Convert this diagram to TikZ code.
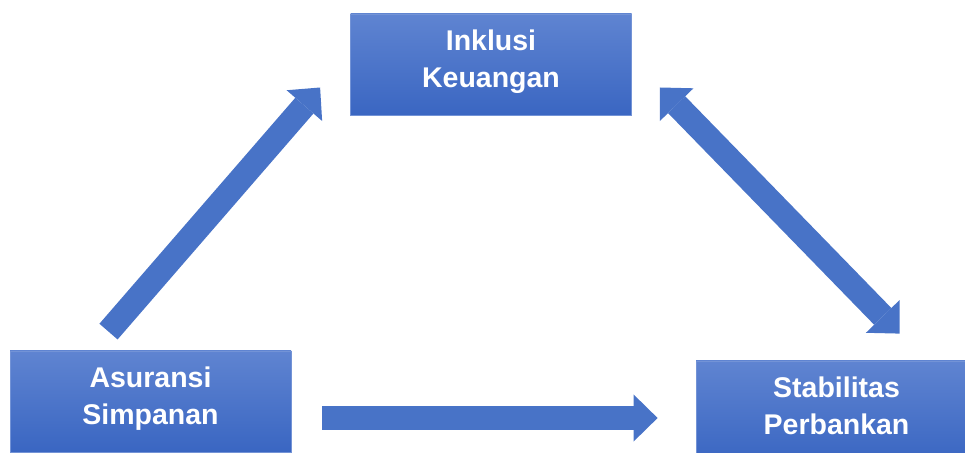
\documentclass[tikz,border=0pt]{standalone}
\usepackage{fontspec}
\setmainfont{Liberation Sans}
\usetikzlibrary{positioning,calc,arrows.meta}
\definecolor{boxtop}{HTML}{5F84D1}
\definecolor{boxbottom}{HTML}{3A66C2}
\definecolor{boxline}{HTML}{7393D6}
\definecolor{arrowblue}{HTML}{4873C7}
\tikzset{
  conceptbox/.style={draw=boxline, line width=0.8pt, top color=boxtop, bottom color=boxbottom,
    minimum width=281pt, minimum height=101pt, inner sep=0pt,
    text=white, align=center, text depth=11.5pt,
    font=\bfseries\fontsize{28.5}{37}\selectfont},
  blockarrow/.style={line width=24pt, draw=arrowblue,
    -{Triangle[length=24pt,width=47pt,line width=0pt]}},
  twowayarrow/.style={line width=24pt, draw=arrowblue,
    {Triangle[length=24pt,width=47pt,line width=0pt]}-{Triangle[length=24pt,width=47pt,line width=0pt]}}
}

\begin{document}
\begin{tikzpicture}[x=1pt, y=1pt]
    \clip (0,0) rectangle (965,452);
    % boxes
    \node[conceptbox] (inklusi) at (491,387.5) {Inklusi\\Keuangan};
    \node[conceptbox] (asuransi) at (150.5,50.5) {Asuransi\\Simpanan};
    \node[conceptbox] (stabilitas) at (836.5,40.5) {Stabilitas\\Perbankan};
    % arrow ends
    \coordinate (as_up) at ($(asuransi.north) + (-42,19)$);
    \coordinate (ik_in) at ($(inklusi.west) + (-30,-23)$);
    \coordinate (as_out) at ($(asuransi.east) + (31,-16.5)$);
    \coordinate (st_in) at ($(stabilitas.west) + (-38,-6.5)$);
    \coordinate (ik_out) at ($(inklusi.east) + (28,-23)$);
    \coordinate (st_up) at ($(stabilitas.north) + (63,27)$);
    % arrows
    \draw[blockarrow] (as_up) -- (ik_in);
    \draw[blockarrow] (as_out) -- (st_in);
    \draw[twowayarrow] (ik_out) -- (st_up);
\end{tikzpicture}
\end{document}
